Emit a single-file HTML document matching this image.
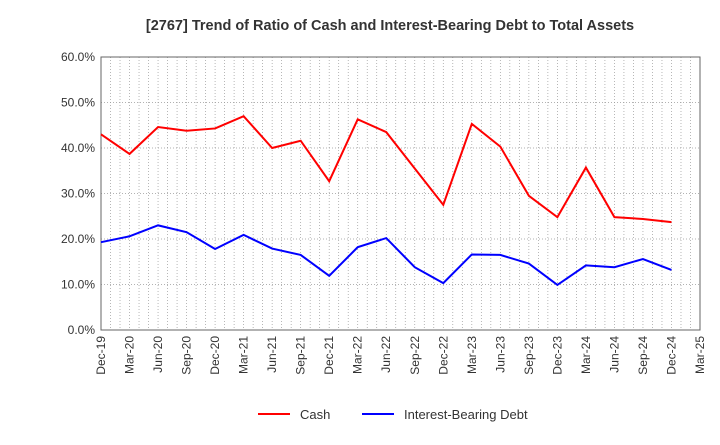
<!DOCTYPE html>
<html><head><meta charset="utf-8"><style>
body{margin:0;background:#fff;font-family:"Liberation Sans",sans-serif}
</style></head><body>
<svg width="720" height="440" xmlns="http://www.w3.org/2000/svg" font-family="Liberation Sans, sans-serif">
<text x="390" y="30" text-anchor="middle" font-size="14.5" font-weight="bold" fill="#333">[2767]  Trend of Ratio of Cash and Interest-Bearing Debt to Total Assets</text>
<g id="grid"></g>
<g id="axes"></g>
<g id="series"></g>
<g>
<line x1="258" y1="414" x2="290" y2="414" stroke="#f00" stroke-width="2"/>
<text x="300" y="419" font-size="13" fill="#333">Cash</text>
<line x1="362" y1="414" x2="394" y2="414" stroke="#00f" stroke-width="2"/>
<text x="404" y="419" font-size="13" fill="#333">Interest-Bearing Debt</text>
</g>
</svg>
<script>
const xLabels=["Dec-19","Mar-20","Jun-20","Sep-20","Dec-20","Mar-21","Jun-21","Sep-21","Dec-21","Mar-22","Jun-22","Sep-22","Dec-22","Mar-23","Jun-23","Sep-23","Dec-23","Mar-24","Jun-24","Sep-24","Dec-24","Mar-25"];
const yTicks=[0,10,20,30,40,50,60];
const cash=[43.0,38.7,44.6,43.8,44.3,47.0,40.0,41.6,32.7,46.3,43.5,35.5,27.5,45.3,40.3,29.5,24.8,35.7,24.8,24.4,23.7];
const debt=[19.3,20.6,23.0,21.5,17.8,20.9,17.9,16.5,11.9,18.2,20.2,13.8,10.3,16.6,16.5,14.6,9.9,14.2,13.8,15.6,13.2];
const L=101,R=700,T=57,B=330,NS="http://www.w3.org/2000/svg";
const X=i=>L+(R-L)*i/(xLabels.length-1);
const Y=v=>B-(B-T)*v/60;
function mk(tag,attrs,parent){const e=document.createElementNS(NS,tag);for(const k in attrs)e.setAttribute(k,attrs[k]);parent.appendChild(e);return e;}
const grid=document.getElementById('grid'),axes=document.getElementById('axes'),series=document.getElementById('series');
for(let m=1;m<(xLabels.length-1)*3;m++){const x=L+(R-L)*m/((xLabels.length-1)*3);
const g=mk('line',{x1:x,x2:x,y1:T,y2:B,stroke:'#999','stroke-width':0.7,'stroke-dasharray':'1,2'},grid);

}
yTicks.forEach(v=>{const y=Y(v);
const g=mk('line',{x1:L,x2:R,y1:y,y2:y,stroke:'#999','stroke-width':0.7,'stroke-dasharray':'1,2'},grid);


const t=mk('text',{x:L-6,y:y+4,'text-anchor':'end','font-size':12,fill:'#333'},axes);t.textContent=v.toFixed(1)+'%';

});
const fr=mk('rect',{x:L,y:T,width:R-L,height:B-T,fill:'none',stroke:'#666','stroke-width':1},axes);


xLabels.forEach((s,i)=>{const x=X(i);
const t=mk('text',{transform:`translate(${x+4},${B+6}) rotate(-90)`,'text-anchor':'end','font-size':12,fill:'#333'},axes);t.textContent=s;

});
function line(arr,col,name){const p=mk('polyline',{points:arr.map((v,i)=>X(i)+','+Y(v)).join(' '),fill:'none',stroke:col,'stroke-width':2},series);

}
line(cash,'#f00','cash-line');
line(debt,'#00f','debt-line');
</script>
</body></html>
